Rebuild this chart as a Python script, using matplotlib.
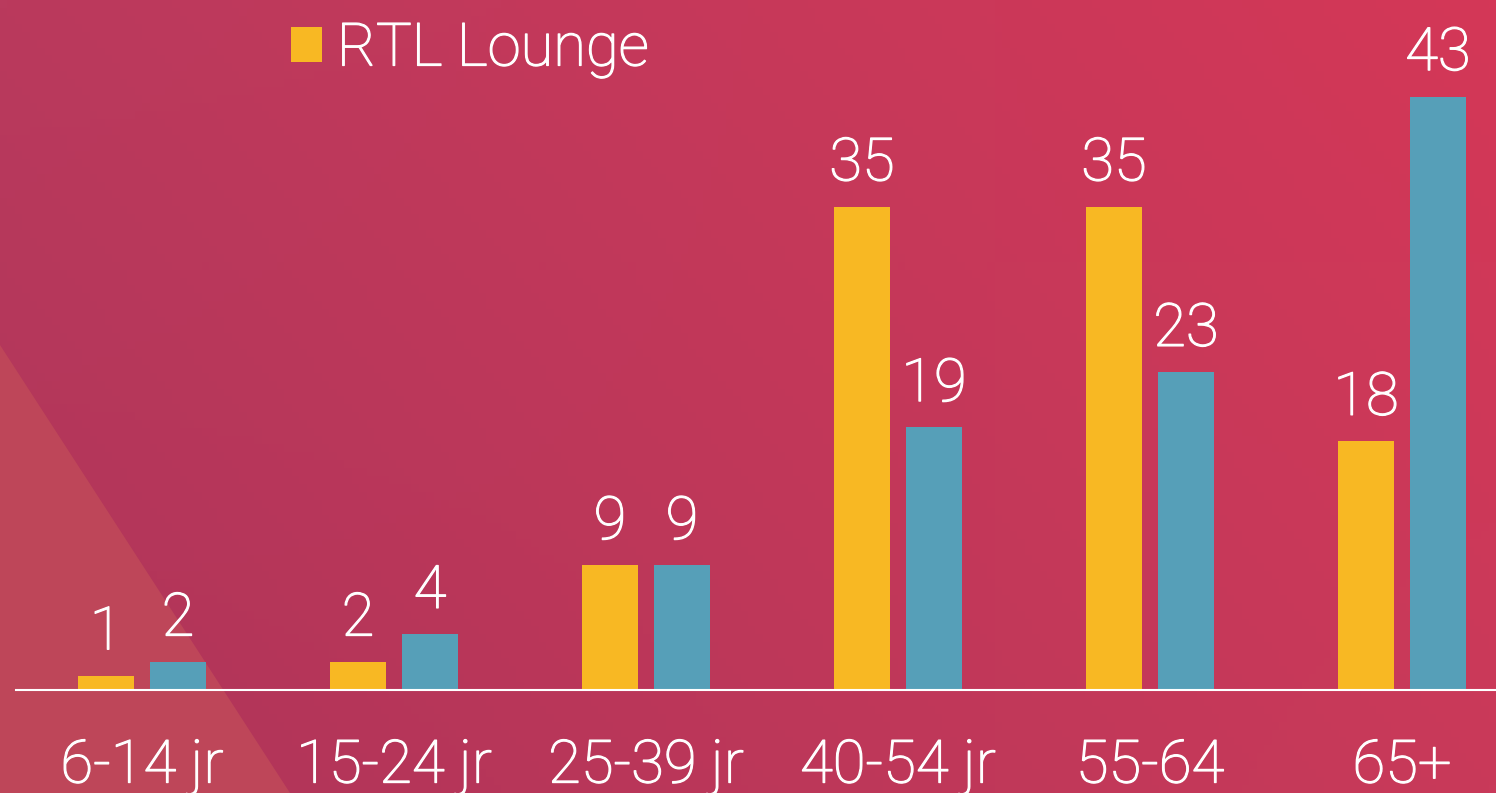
import matplotlib.pyplot as plt
import matplotlib.patheffects as pe
import numpy as np
from matplotlib.legend_handler import HandlerPatch
from matplotlib.patches import Polygon, Rectangle

categories = ["6-14 jr", "15-24 jr", "25-39 jr", "40-54 jr", "55-64", "65+"]
rtl_lounge = [1, 2, 9, 35, 35, 18]
other = [2, 4, 9, 19, 23, 43]

yellow = "#F8B823"
blue = "#569FB8"

plt.rcParams["font.family"] = ["Roboto", "DejaVu Sans"]

W, H = 1496, 793
fig = plt.figure(figsize=(W / 100, H / 100), dpi=100)

# background: diagonal gradient plus a lighter triangle bottom left
bg = fig.add_axes([0, 0, 1, 1], zorder=0)
bg.set_axis_off()
tl = np.array([0xBA, 0x3A, 0x5D]) / 255
tr = np.array([0xD4, 0x37, 0x57]) / 255
bl = np.array([0xAE, 0x34, 0x59]) / 255
br = np.array([0xC9, 0x3A, 0x5A]) / 255
u = np.linspace(0, 1, 200)[None, :, None]
v = np.linspace(0, 1, 100)[:, None, None]
grad = (1 - v) * ((1 - u) * tl + u * tr) + v * ((1 - u) * bl + u * br)
bg.imshow(grad, extent=(0, 1, 0, 1), aspect="auto", origin="upper")
bg.add_patch(Polygon([(0, 1 - 345 / H), (290 / W, 0), (0, 0)], closed=True,
                     facecolor="#BE4659", edgecolor="none"))
bg.set_xlim(0, 1)
bg.set_ylim(0, 1)

ax = fig.add_axes([0, 0, 1, 1], zorder=1)
ax.set_facecolor("none")
ax.set_axis_off()

x = np.arange(len(categories))
width = 56 / 252
off = 36 / 252
b1 = ax.bar(x - off, rtl_lounge, width, color=yellow, label="RTL Lounge")
b2 = ax.bar(x + off, other, width, color=blue)

ax.set_xlim(-142 / 252, (W - 142) / 252)
ppu = 593 / 43
ax.set_ylim(-(H - 689.5) / ppu, 689.5 / ppu)
ax.axhline(0, xmin=16 / W, xmax=1, color="white", lw=1.5, zorder=3)

fs = 43
fw = 100
# thin weight thickened a little to look like Roboto Light
thick = [pe.Stroke(linewidth=0.9, foreground="white"), pe.Normal()]
for bars, vals in ((b1, rtl_lounge), (b2, other)):
    for rect, val in zip(bars, vals):
        ax.annotate(str(val), (rect.get_x() + rect.get_width() / 2, val),
                    xytext=(0, 19), textcoords="offset points",
                    ha="center", va="baseline", color="white",
                    fontsize=fs, fontweight=fw, path_effects=thick)

for xi, cat in zip(x, categories):
    ax.annotate(cat, (xi, 0), xytext=(0, -67), textcoords="offset points",
                ha="center", va="baseline", color="white",
                fontsize=fs, fontweight=fw, path_effects=thick)


def square(legend, orig_handle, xdescent, ydescent, width, height, fontsize):
    return Rectangle((-xdescent, -ydescent - 7.5), width, height)


leg = ax.legend(handles=[b1], loc="upper left",
                bbox_to_anchor=(291 / W, 1 - 21 / H), frameon=False,
                fontsize=fs, handlelength=0.52, handleheight=0.52,
                handletextpad=0.25, borderpad=0, borderaxespad=0,
                handler_map={Rectangle: HandlerPatch(patch_func=square)})
for t in leg.get_texts():
    t.set_color("white")
    t.set_fontweight(fw)
    t.set_path_effects(thick)

fig.savefig("out.png", dpi=100)
